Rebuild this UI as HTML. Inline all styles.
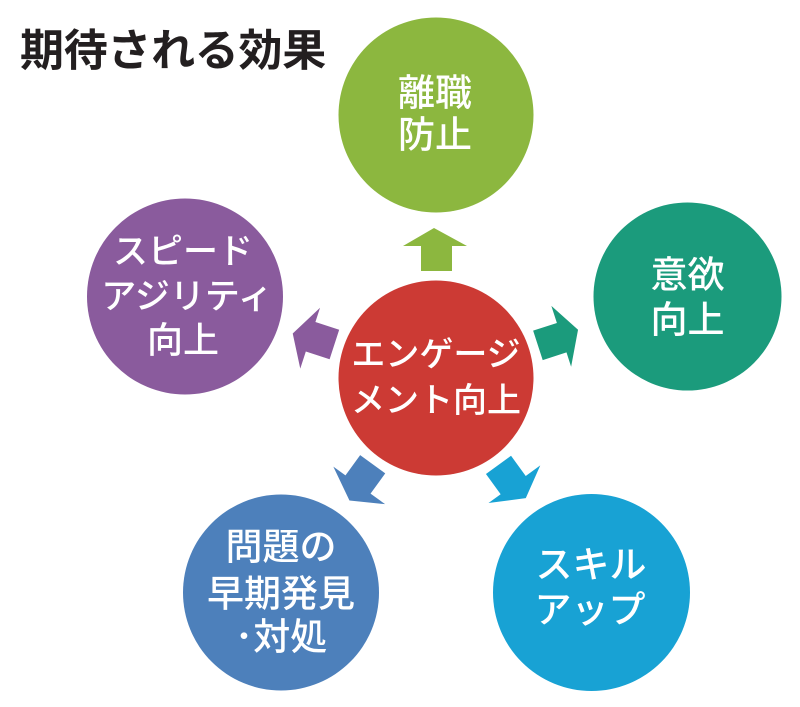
<!DOCTYPE html>
<html><head><meta charset="utf-8">
<style>
html,body{margin:0;padding:0;background:#fff;}
body{width:800px;height:707px;overflow:hidden;}
svg{display:block;}
text{font-family:"Liberation Sans","Noto Sans CJK JP",sans-serif;}
</style></head>
<body>
<svg width="800" height="707" viewBox="0 0 800 707" xmlns="http://www.w3.org/2000/svg">
<defs>
<polygon id="arr" points="434,228 467,246 452,246 452,271 421,271 421,246 403,246"/>
</defs>
<!-- title -->
<text x="20" y="51" font-size="44" font-weight="bold" fill="#231f20" dominant-baseline="central" style="font-family:'Liberation Sans','Noto Sans CJK JP',sans-serif;letter-spacing:-0.3px">期待される効果</text>

<!-- arrows -->
<use href="#arr" fill="#8cb73f"/>
<use href="#arr" fill="#1b9b7c" transform="rotate(72 436 378)"/>
<use href="#arr" fill="#18a2d4" transform="rotate(144 436 378)"/>
<use href="#arr" fill="#4d80bb" transform="rotate(216 436 378)"/>
<use href="#arr" fill="#8a5b9d" transform="rotate(288 436 378)"/>

<!-- circles -->
<circle cx="436" cy="378" r="97.5" fill="#cc3a34"/>
<circle cx="436" cy="115" r="97.5" fill="#8cb73f"/>
<circle cx="687.5" cy="296.5" r="94" fill="#1b9b7c"/>
<circle cx="185" cy="296.5" r="98" fill="#8a5b9d"/>
<circle cx="281" cy="592.5" r="98" fill="#4d80bb"/>
<circle cx="591.5" cy="592.5" r="98.5" fill="#18a2d4"/>

<g fill="#fff" text-anchor="middle" dominant-baseline="central" font-weight="500">
<text x="436" y="355" font-size="34">エンゲージ</text>
<text x="436" y="401" font-size="34">メント向上</text>

<text x="435" y="93" font-size="37">離職</text>
<text x="435" y="135" font-size="37">防止</text>

<text x="687.5" y="275" font-size="37">意欲</text>
<text x="687.5" y="320" font-size="37">向上</text>

<text x="183" y="252" font-size="35">スピード</text>
<text x="187" y="297" font-size="35">アジリティ</text>
<text x="183" y="340" font-size="36">向上</text>

<text x="281" y="547" font-size="37">問題の</text>
<text x="281" y="594" font-size="37">早期発見</text>
<text x="281" y="637" font-size="37">･対処</text>

<text x="591" y="565" font-size="37">スキル</text>
<text x="590" y="610" font-size="37">アップ</text>
</g>
</svg>
</body></html>
